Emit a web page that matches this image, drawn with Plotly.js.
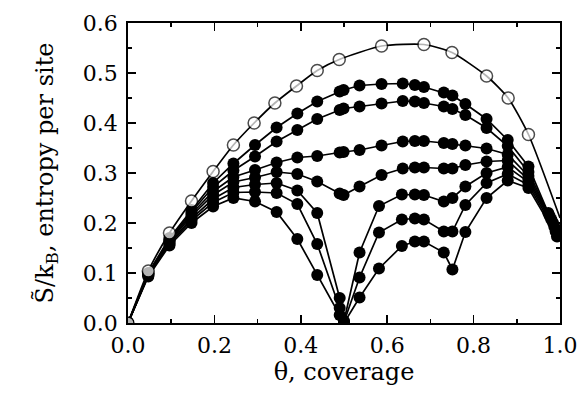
<!DOCTYPE html>
<html>
<head>
<meta charset="utf-8">
<script src="https://cdn.plot.ly/plotly-3.0.1.min.js"></script>
<style>
html,body{margin:0;padding:0;background:#fff;}
#chart{width:581px;height:400px;}
</style>
</head>
<body>
<div id="chart"></div>
<script>
// coverage values (theta)
const thetaLow = [0, 0.047, 0.096, 0.147, 0.197, 0.244, 0.294, 0.344, 0.392, 0.438];
const thetaHighA = [0.490, 0.499, 0.536, 0.587, 0.636, 0.664, 0.685, 0.731, 0.751, 0.781, 0.830, 0.879, 0.927];
const thetaHighB = [0.490, 0.500, 0.536, 0.581, 0.634, 0.664, 0.685, 0.731, 0.751, 0.781, 0.830, 0.879, 0.927];
const thetaEnd = [0.973, 0.976, 0.980, 0.984, 0.987, 0.990, 0.993];

// open-circle series
const thetaOpen = [0, 0.047, 0.096, 0.147, 0.197, 0.244, 0.292, 0.340, 0.390, 0.438, 0.489, 0.587, 0.685, 0.750, 0.830, 0.880, 0.927, 1.0];
const entropyOpen = [0, 0.104, 0.180, 0.244, 0.303, 0.356, 0.400, 0.440, 0.474, 0.505, 0.527, 0.554, 0.557, 0.541, 0.494, 0.450, 0.377, 0.210];

// filled series: low-coverage part, high-coverage part, end value
const s1Low = [0, 0.100, 0.170, 0.226, 0.280, 0.319, 0.356, 0.391, 0.419, 0.443];
const s1High = [0.463, 0.466, 0.475, 0.478, 0.479, 0.476, 0.472, 0.461, 0.455, 0.438, 0.408, 0.366, 0.313];
const s2Low = [0, 0.099, 0.167, 0.222, 0.272, 0.305, 0.333, 0.363, 0.386, 0.408];
const s2High = [0.426, 0.429, 0.433, 0.439, 0.444, 0.443, 0.440, 0.433, 0.428, 0.416, 0.390, 0.354, 0.302];
const s3Low = [0, 0.098, 0.165, 0.218, 0.263, 0.292, 0.306, 0.321, 0.331, 0.334];
const s3High = [0.341, 0.342, 0.346, 0.355, 0.363, 0.364, 0.364, 0.360, 0.358, 0.355, 0.349, 0.337, 0.294];
const s4Low = [0, 0.097, 0.163, 0.214, 0.256, 0.282, 0.291, 0.302, 0.298, 0.283];
const s4High = [0.259, 0.256, 0.273, 0.296, 0.309, 0.311, 0.311, 0.309, 0.309, 0.316, 0.323, 0.325, 0.287];
const s5Low = [0, 0.096, 0.160, 0.209, 0.248, 0.271, 0.277, 0.280, 0.265, 0.220];
const s5High = [0.050, 0.004, 0.141, 0.234, 0.257, 0.257, 0.256, 0.243, 0.250, 0.273, 0.300, 0.312, 0.282];
const s6Low = [0, 0.095, 0.158, 0.205, 0.241, 0.261, 0.262, 0.260, 0.238, 0.158];
const s6High = [0.030, 0.002, 0.091, 0.181, 0.207, 0.209, 0.207, 0.183, 0.183, 0.236, 0.280, 0.298, 0.276];
const s7Low = [0, 0.093, 0.155, 0.200, 0.233, 0.250, 0.243, 0.222, 0.168, 0.096];
const s7High = [0.016, 0.000, 0.051, 0.109, 0.154, 0.163, 0.163, 0.141, 0.107, 0.182, 0.250, 0.285, 0.270];
const endValues = [0.220, 0.214, 0.207, 0.200, 0.192, 0.183, 0.173];

const filled = [
  [s1Low, s1High, thetaHighA],
  [s2Low, s2High, thetaHighA],
  [s3Low, s3High, thetaHighA],
  [s4Low, s4High, thetaHighA],
  [s5Low, s5High, thetaHighB],
  [s6Low, s6High, thetaHighB],
  [s7Low, s7High, thetaHighB]
];

const traces = [];
filled.forEach((s, i) => {
  traces.push({
    x: thetaLow.concat(s[2], [thetaEnd[i]]),
    y: s[0].concat(s[1], [endValues[i]]),
    type: 'scatter',
    mode: 'lines+markers',
    line: {color: '#000000', width: 1.7},
    marker: {symbol: 'circle', size: 12, color: '#000000'},
    showlegend: false,
    hoverinfo: 'skip'
  });
});
const openSizes = thetaOpen.map((t, i) => (i === thetaOpen.length - 1 ? 0 : 12));
traces.push({
  x: thetaOpen,
  y: entropyOpen,
  type: 'scatter',
  mode: 'lines+markers',
  line: {color: '#000000', width: 1.7, shape: 'spline', smoothing: 0.6},
  marker: {symbol: 'circle', size: openSizes, color: '#ffffff', line: {color: '#000000', width: 1.5}},
  showlegend: false,
  hoverinfo: 'skip'
});

const layout = {
  width: 581, height: 400,
  margin: {l: 128, r: 21, t: 23, b: 77},
  paper_bgcolor: '#ffffff', plot_bgcolor: '#ffffff',
  font: {family: 'DejaVu Serif', size: 22, color: '#000000'},
  xaxis: {
    range: [0, 1], dtick: 0.2, tickformat: '.1f',
    ticks: 'inside', ticklen: 8, tickwidth: 1.5, tickcolor: '#000000',
    minor: {dtick: 0.1, ticks: 'inside', ticklen: 4, tickwidth: 1.5, tickcolor: '#000000'},
    showline: true, linecolor: '#000000', linewidth: 1.8, mirror: 'allticks',
    showgrid: false, zeroline: false,
    ticklabelstandoff: 2,
    title: {text: 'θ, coverage', font: {size: 24}, standoff: 4},
    automargin: false
  },
  yaxis: {
    range: [0, 0.6], dtick: 0.1, tickformat: '.1f',
    ticks: 'inside', ticklen: 8, tickwidth: 1.5, tickcolor: '#000000',
    minor: {dtick: 0.05, ticks: 'inside', ticklen: 4, tickwidth: 1.5, tickcolor: '#000000'},
    showline: true, linecolor: '#000000', linewidth: 1.8, mirror: 'allticks',
    showgrid: false, zeroline: false,
    ticklabelstandoff: 4,
    title: {text: 'S\u0303/k<sub>B</sub>, entropy per site', font: {size: 24}, standoff: 22},
    automargin: false
  }
};
Plotly.newPlot('chart', traces, layout, {staticPlot: true, displayModeBar: false});
</script>
</body>
</html>
